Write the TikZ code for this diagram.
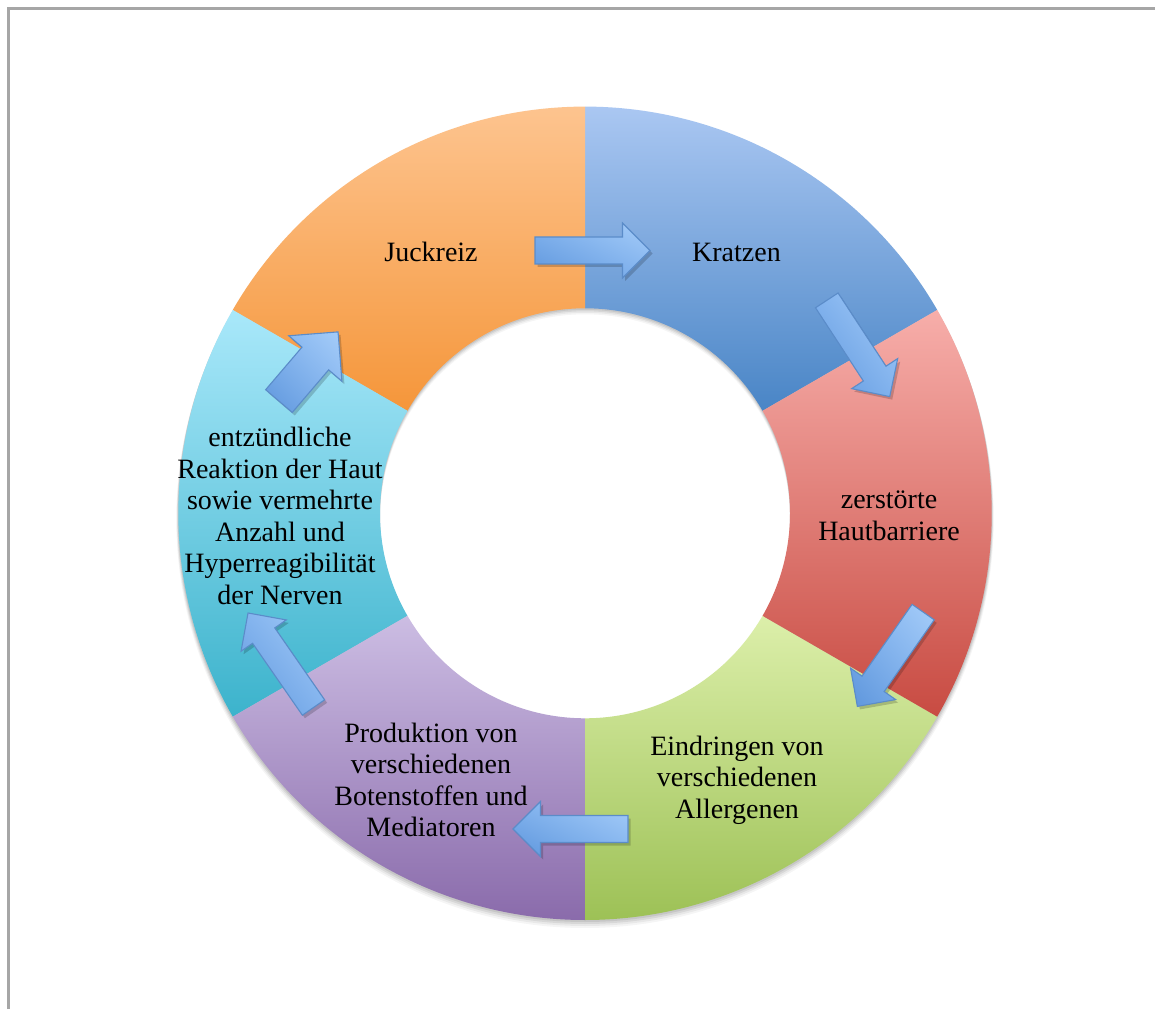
\documentclass[tikz,border=0pt]{standalone}
\usepackage{fontspec}
\setmainfont{Liberation Serif}
\usetikzlibrary{calc,shadings}
\definecolor{orT}{HTML}{FDC48F}\definecolor{orB}{HTML}{F5963A}
\definecolor{blT}{HTML}{AAC7F2}\definecolor{blB}{HTML}{4985C6}
\definecolor{rdT}{HTML}{F7AEAA}\definecolor{rdB}{HTML}{C84B42}
\definecolor{grT}{HTML}{DCEFAA}\definecolor{grB}{HTML}{9DC156}
\definecolor{puT}{HTML}{CCBDE3}\definecolor{puB}{HTML}{8A6BAB}
\definecolor{cyT}{HTML}{A9E8FA}\definecolor{cyB}{HTML}{3CB3CC}
\definecolor{arLight}{HTML}{A6CDF9}\definecolor{arDark}{HTML}{5E96DC}
\definecolor{arMid}{HTML}{82B3EE}\definecolor{arEdge}{HTML}{5B8CC9}
\definecolor{frame}{HTML}{A6A6A6}
\tikzset{
  lbl/.style={align=center,text=black,inner sep=0pt,font=\fontsize{28}{31.5}\selectfont},
  arrowbody/.style={draw=arEdge,line width=1.1pt,line join=miter,
     lower left=arDark,upper right=arLight,upper left=arMid,lower right=arMid},
  arrowshadow/.style={fill=black,opacity=0.18}
}
% #1 x, #2 y, #3 angle, #4 length, #5 shaft width, #6 head width
\newcommand\blockarrow[6]{%
  \begin{scope}[shift={(#1+2.5,#2-3)},rotate=#3]
    \fill[arrowshadow] (-#4/2,-#5/2) -- (#4/2-#6/2,-#5/2) -- (#4/2-#6/2,-#6/2) -- (#4/2,0)
      -- (#4/2-#6/2,#6/2) -- (#4/2-#6/2,#5/2) -- (-#4/2,#5/2) -- cycle;
  \end{scope}
  \begin{scope}[shift={(#1,#2)},rotate=#3]
    \shade[arrowbody] (-#4/2,-#5/2) -- (#4/2-#6/2,-#5/2) -- (#4/2-#6/2,-#6/2) -- (#4/2,0)
      -- (#4/2-#6/2,#6/2) -- (#4/2-#6/2,#5/2) -- (-#4/2,#5/2) -- cycle;
  \end{scope}}
% #1 start angle, #2 end angle, #3 top colour, #4 bottom colour
\newcommand\ringseg[4]{%
  \shade[top color=#3,bottom color=#4,shift={(585,495.7)}]
    (#1:406.7) arc[start angle=#1,end angle=#2,radius=406.7]
    -- (#2:205) arc[start angle=#2,end angle=#1,radius=205] -- cycle;}
\begin{document}
\begin{tikzpicture}[x=1pt,y=1pt]
\useasboundingbox (0,0) rectangle (1155,1009);
\fill[white] (0,0) rectangle (1155,1009);
% frame
\draw[frame,line width=2.5pt] (8.5,0) -- (8.5,1000.5) -- (1155,1000.5);
% soft shadow of the ring
\foreach \o/\op in {6/0.04,4.5/0.05,3/0.07,1.5/0.08}{
  \fill[black,opacity=\op,even odd rule,shift={(585,495.7-\o)}] (0,0) circle[radius=406.7+\o/3] (0,0) circle[radius=205];
}
% ring segments
\ringseg{30}{90}{blT}{blB}
\ringseg{90}{150}{orT}{orB}
\ringseg{150}{210}{cyT}{cyB}
\ringseg{210}{270}{puT}{puB}
\ringseg{270}{330}{grT}{grB}
\ringseg{-30}{30}{rdT}{rdB}
% labels
\node[lbl] (juck) at (431,757) {Juckreiz};
\node[lbl] (kratz) at (736.5,757) {Kratzen};
\node[lbl] (barr) at (889,493) {zerstörte\\Hautbarriere};
\node[lbl] (eind) at (737,229) {Eindringen von\\verschiedenen\\Allergenen};
\node[lbl] (prod) at (431,229) {Produktion von\\verschiedenen\\Botenstoffen und\\Mediatoren};
\node[lbl] (entz) at (280,493) {entzündliche\\Reaktion der Haut\\sowie vermehrte\\Anzahl und\\Hyperreagibilität\\der Nerven};
% block arrows
\blockarrow{592.5}{758.5}{0}{115}{27}{55}
\blockarrow{858.25}{660.5}{-56.8}{115}{27}{55}
\blockarrow{890.25}{349.75}{-124.9}{115}{27}{55}
\blockarrow{570.5}{180}{180}{115}{27}{55}
\blockarrow{280.75}{348.75}{124.7}{115}{27}{55}
\blockarrow{308.5}{642.5}{49.5}{91}{35}{70}
\end{tikzpicture}
\end{document}
